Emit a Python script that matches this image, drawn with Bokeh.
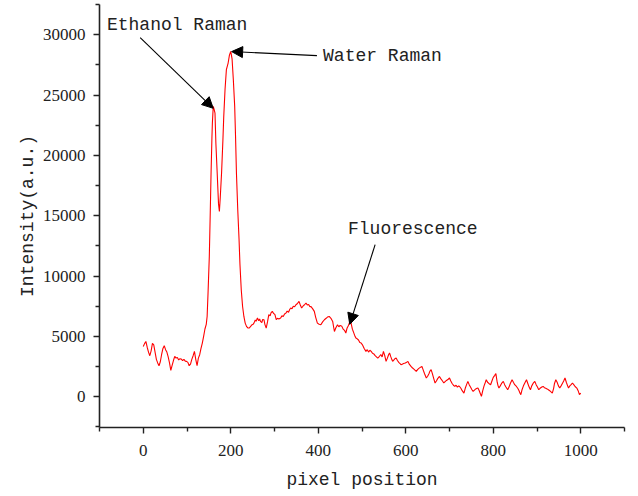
from bokeh.plotting import figure
from bokeh.models import Range1d, Label, Arrow, NormalHead, FixedTicker
from bokeh.embed import file_html
from bokeh.resources import INLINE

pixel = [0, 3, 6, 9, 12, 15, 18, 21, 24, 27, 30, 33, 36, 39, 42, 45, 48, 51, 54, 57, 60, 63, 66, 69, 72, 75, 78, 81, 84, 87,
         90, 93, 96, 99, 102, 105, 108, 111, 114, 117, 120, 123, 126, 129, 132, 135, 138, 141,
         144, 146, 148, 151, 153, 155, 157, 158, 160, 162, 164, 166, 169, 172, 174, 176, 179, 182, 184, 187, 190, 194, 197,
         200, 203, 206, 209, 211, 213, 216, 219, 221, 224, 227, 230, 233, 236, 239, 242, 245, 248, 251, 253, 256, 258, 261,
         264, 266, 268, 271, 273, 276, 278, 281, 284, 287, 290, 292, 295, 298, 301, 304, 307, 310, 314, 317, 320, 323, 326,
         329, 332, 335, 337, 340, 343, 346, 349, 352, 356, 359, 362, 365, 368, 372, 375, 378, 381, 383, 387, 391, 394, 398,
         402, 406, 410, 414, 418, 421, 425, 429, 433, 435, 437, 440, 444, 447, 450, 454, 457, 460, 463, 466, 469, 471, 473,
         475, 478, 480, 483, 486, 489, 492, 495, 498, 501, 505, 509, 512, 515, 518, 521, 524, 527, 530, 533, 536, 540, 543,
         546, 549, 552, 555, 558, 561, 563, 566, 568, 570, 573, 575, 578, 581, 584, 587, 589, 592, 595, 599, 602, 605, 608,
         612, 615, 618, 621, 624, 627, 630, 634, 637, 640, 643, 647, 650, 653, 655, 658, 661, 664, 667, 670, 673, 677, 680,
         684, 687, 690, 693, 697, 700, 703, 706, 709, 712, 715, 718, 721, 723, 726, 729, 733, 736, 739, 742, 745, 748, 751,
         754, 757, 760, 763, 765, 768, 771, 773, 776, 779, 782, 784, 787, 790, 794, 797, 800, 803, 806, 809, 811, 813, 816,
         819, 823, 826, 829, 833, 836, 839, 843, 846, 849, 853, 856, 859, 861, 863, 866, 869, 873, 876, 879, 882, 885, 888,
         891, 895, 898, 901, 904, 907, 911, 914, 917, 920, 923, 926, 929, 932, 935, 938, 940, 943, 946, 949, 952, 955, 958,
         961, 964, 967, 970, 972, 975, 978, 981, 984, 987, 991, 994, 997, 1000]

intensity = [4170, 4400, 4580, 4100, 3700, 3400, 3800, 4420, 4300, 3700, 3100, 2800, 2570, 2900, 3500, 4000, 4230, 3900,
             3700, 3300, 2800, 2180, 2600, 3000, 3340, 3200, 3250, 3050, 3150, 3120, 3000, 3100, 2950, 2930, 2850, 2570,
             2700, 3100, 3400, 3760, 3100, 2570, 3200, 3480, 4000, 4450, 5000, 5610,
             6000, 6650, 8500, 11630, 15000, 18540, 21500, 22680, 24060, 23800, 23500, 21000, 18540, 16000, 15360, 16500,
             18540, 21200, 23230, 25500, 27100, 27650, 28300,
             28620, 28000, 26200, 24060, 21500, 18540, 15500, 13010, 11000, 8870, 7500, 6650, 6100, 5830, 5700, 5690, 5800,
             5950, 6000, 6100, 6350, 6250, 6520,
             6300, 6450, 6240, 6150, 6400, 6380, 6000, 5690, 6200, 6800, 6700, 6950, 7070, 6900, 6800, 6380, 6500, 6450,
             6520, 6700, 6650, 6850, 6930,
             7100, 7000, 7250, 7350, 7300, 7500, 7450, 7620, 7700, 7900, 7600, 7350, 7500, 7600, 7760, 7600, 7650, 7450,
             7480, 7300, 7070, 6600, 6100,
             6000, 5970, 6200, 6380, 6500, 6600, 6650, 6500, 6240, 5800, 5410, 5700, 5970, 5800, 5900, 5830, 5600, 5500,
             5280, 5700, 5900, 6100, 6300,
             6100, 5600, 5410, 5100, 4860, 4800, 4700, 4500, 4450, 4300, 4000, 3760, 3900, 3700, 3850, 3760, 3600, 3550,
             3400, 3300, 3200, 3350, 3500,
             3300, 3760, 3400, 2930, 3200, 3500, 3620, 3300, 3100, 2930, 3050, 3150, 3200, 3000, 2850, 2750, 2650, 2700,
             2750, 2790, 2850, 2930, 2700,
             2510, 2400, 2300, 2200, 2100, 2250, 2350, 2450, 2510, 2200, 1900, 1550, 1700, 1900, 2100, 2240, 1900, 1500,
             1140, 1300, 1500, 1680, 1500,
             1300, 1140, 1250, 1350, 1450, 1550, 1300, 1100, 950, 850, 950, 800, 900, 850, 700, 500, 300, 700, 1000, 1270,
             1000, 800, 600,
             440, 550, 650, 700, 720, 500, 200, 30, 500, 900, 1200, 1410, 1200, 1100, 990, 1300, 1600, 1750, 1910, 1200,
             900, 720, 900,
             1100, 1270, 1000, 800, 580, 800, 1100, 1410, 1200, 1000, 850, 700, 500, 300, 170, 600, 900, 1200, 1410, 1100,
             800, 580, 900,
             1100, 1270, 1000, 800, 580, 700, 800, 850, 750, 700, 650, 580, 500, 400, 300, 700, 1100, 1410, 1200, 900, 720,
             900, 1100,
             1300, 1550, 1200, 900, 720, 900, 1000, 1140, 1000, 850, 720, 500, 170, 300]

x_ticks = [0, 200, 400, 600, 800, 1000]
x_minor = [-100, 100, 300, 500, 700, 900, 1100]
y_ticks = [0, 5000, 10000, 15000, 20000, 25000, 30000]
y_minor = [-2500, 2500, 7500, 12500, 17500, 22500, 27500, 32500]

# annotations: (text, text_x, text_y, arrow tail x, tail y, head x, head y)
notes = [
    ("Ethanol Raman", -83, 30830, -7, 29750, 160, 23900),
    ("Water Raman", 411, 28260, 397, 28260, 202, 28600),
    ("Fluorescence", 468, 13920, 530, 12600, 472, 6000),
]

FONT_MONO = "Liberation Mono"
FONT_SERIF = "Liberation Serif"

p = figure(output_backend="svg", toolbar_location=None,
           frame_width=525, frame_height=423,
           min_border_left=99, min_border_right=10, min_border_top=4, min_border_bottom=64,
           x_range=Range1d(-100, 1100), y_range=Range1d(-2550, 32500))
p.outline_line_color = None
p.grid.visible = False
p.background_fill_color = "white"
p.border_fill_color = "white"

p.line(pixel, intensity, line_color="#ff0000", line_width=1.1)

for ax, major, minor in ((p.xaxis[0], x_ticks, x_minor), (p.yaxis[0], y_ticks, y_minor)):
    ax.ticker = FixedTicker(ticks=major, minor_ticks=minor)
    ax.axis_line_color = "#222222"
    ax.axis_line_width = 1.6
    ax.major_tick_line_color = "#222222"
    ax.minor_tick_line_color = "#222222"
    ax.major_tick_line_width = 1.4
    ax.minor_tick_line_width = 1.4
    ax.major_tick_out = 6
    ax.major_tick_in = 0
    ax.minor_tick_out = 4
    ax.minor_tick_in = 0
    ax.major_label_text_font = FONT_SERIF
    ax.major_label_text_font_size = "17px"
    ax.major_label_text_color = "#222222"
    ax.axis_label_text_font = FONT_MONO
    ax.axis_label_text_font_size = "18px"
    ax.axis_label_text_font_style = "normal"
    ax.axis_label_text_color = "#222222"

p.xaxis.axis_label = "pixel position"
p.yaxis.axis_label = "Intensity(a.u.)"
p.xaxis.major_label_standoff = 11
p.yaxis.major_label_standoff = 8
p.xaxis.axis_label_standoff = 11
p.yaxis.axis_label_standoff = 2

for text, tx, ty, ax0, ay0, hx, hy in notes:
    p.add_layout(Label(x=tx, y=ty, text=text, text_font=FONT_MONO, text_font_size="18px",
                       text_baseline="middle", text_align="left", text_color="#222222"))
    p.add_layout(Arrow(x_start=ax0, y_start=ay0, x_end=hx, y_end=hy,
                       line_color="black", line_width=1.1,
                       end=NormalHead(size=11, fill_color="black", line_color="black", line_width=1)))

open("out.html", "w").write(file_html(p, INLINE))
